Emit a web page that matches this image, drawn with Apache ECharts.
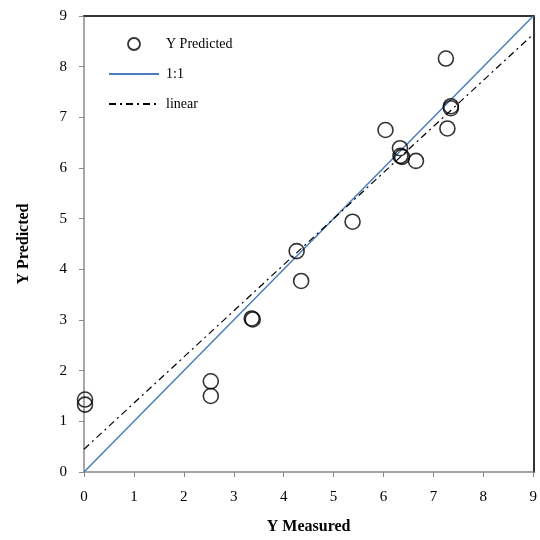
<!DOCTYPE html>
<html><head><meta charset="utf-8">
<script src="https://cdn.jsdelivr.net/npm/echarts@6/dist/echarts.min.js"></script>
<style>html,body{margin:0;padding:0;background:#fff}#c{width:540px;height:540px}</style>
</head><body><div id="c"></div>
<script>
const measured = [0.02, 0.02, 2.54, 2.54, 3.36, 3.38, 4.26, 4.35, 5.38, 6.04, 6.33, 6.34, 6.37, 6.65, 7.25, 7.35, 7.35, 7.28];
const predicted = [1.43, 1.33, 1.79, 1.50, 3.03, 3.01, 4.36, 3.77, 4.94, 6.75, 6.39, 6.24, 6.22, 6.14, 8.16, 7.22, 7.18, 6.78];
const oneToOne = [[0, 0], [9, 9]];
const linearFit = [[0, 0.45], [9, 8.64]];
const ticks = [0, 1, 2, 3, 4, 5, 6, 7, 8, 9];
const seriesNames = ['Y Predicted', '1:1', 'linear'];

const font = '"Liberation Serif", "Times New Roman", serif';
const chart = echarts.init(document.getElementById('c'));
const axBase = {
  type: 'value', min: ticks[0], max: ticks[ticks.length - 1], interval: 1,
  splitLine: { show: false }
};
chart.setOption({
  animation: false,
  textStyle: { fontFamily: font },
  grid: { left: 84, right: 5, top: 16, bottom: 68 },
  legend: {
    orient: 'vertical', left: 103, top: 32, itemWidth: 50, itemHeight: 12, itemGap: 16,
    textStyle: { fontFamily: font, fontSize: 14, color: '#000', padding: [0, 0, 0, 2] },
    data: [
      { name: seriesNames[0], icon: 'circle', itemStyle: { color: 'transparent', borderColor: '#000', borderWidth: 1.8 } },
      { name: seriesNames[1], itemStyle: { opacity: 0 } },
      { name: seriesNames[2], itemStyle: { opacity: 0 } }
    ]
  },
  xAxis: [
    Object.assign({}, axBase, {
      position: 'bottom',
      name: 'Y Measured', nameLocation: 'middle', nameGap: 47,
      nameTextStyle: { fontFamily: font, fontSize: 16, fontWeight: 'bold', color: '#000' },
      axisLine: { onZero: false, lineStyle: { color: '#888', width: 1.5 } },
      axisTick: { inside: false, length: 5, lineStyle: { color: '#888' } },
      axisLabel: { fontFamily: font, fontSize: 15, color: '#000', margin: 18 }
    }),
    Object.assign({}, axBase, {
      position: 'top',
      axisLine: { onZero: false, lineStyle: { color: '#333', width: 2 } },
      axisTick: { show: false }, axisLabel: { show: false }
    })
  ],
  yAxis: [
    Object.assign({}, axBase, {
      position: 'left',
      name: 'Y Predicted', nameLocation: 'middle', nameGap: 52,
      nameTextStyle: { fontFamily: font, fontSize: 16, fontWeight: 'bold', color: '#000' },
      axisLine: { onZero: false, lineStyle: { color: '#888', width: 1.5 } },
      axisTick: { inside: false, length: 5, lineStyle: { color: '#888' } },
      axisLabel: { fontFamily: font, fontSize: 15, color: '#000', margin: 17 }
    }),
    Object.assign({}, axBase, {
      position: 'right',
      axisLine: { onZero: false, lineStyle: { color: '#333', width: 2 } },
      axisTick: { show: false }, axisLabel: { show: false }
    })
  ],
  series: [
    {
      name: seriesNames[0], type: 'scatter', symbol: 'circle', symbolSize: 15,
      itemStyle: { color: 'transparent', borderColor: '#000', borderWidth: 1.6 },
      data: measured.map((m, i) => [m, predicted[i]]), z: 5
    },
    {
      name: seriesNames[1], type: 'line', symbol: 'none',
      lineStyle: { color: '#4a7ebb', width: 1.5 }, itemStyle: { color: '#4a7ebb' },
      data: oneToOne
    },
    {
      name: seriesNames[2], type: 'line', symbol: 'none',
      lineStyle: { color: '#000', width: 1.2, type: [7, 4, 2, 4] }, itemStyle: { color: '#000' },
      data: linearFit
    }
  ]
});
</script></body></html>
